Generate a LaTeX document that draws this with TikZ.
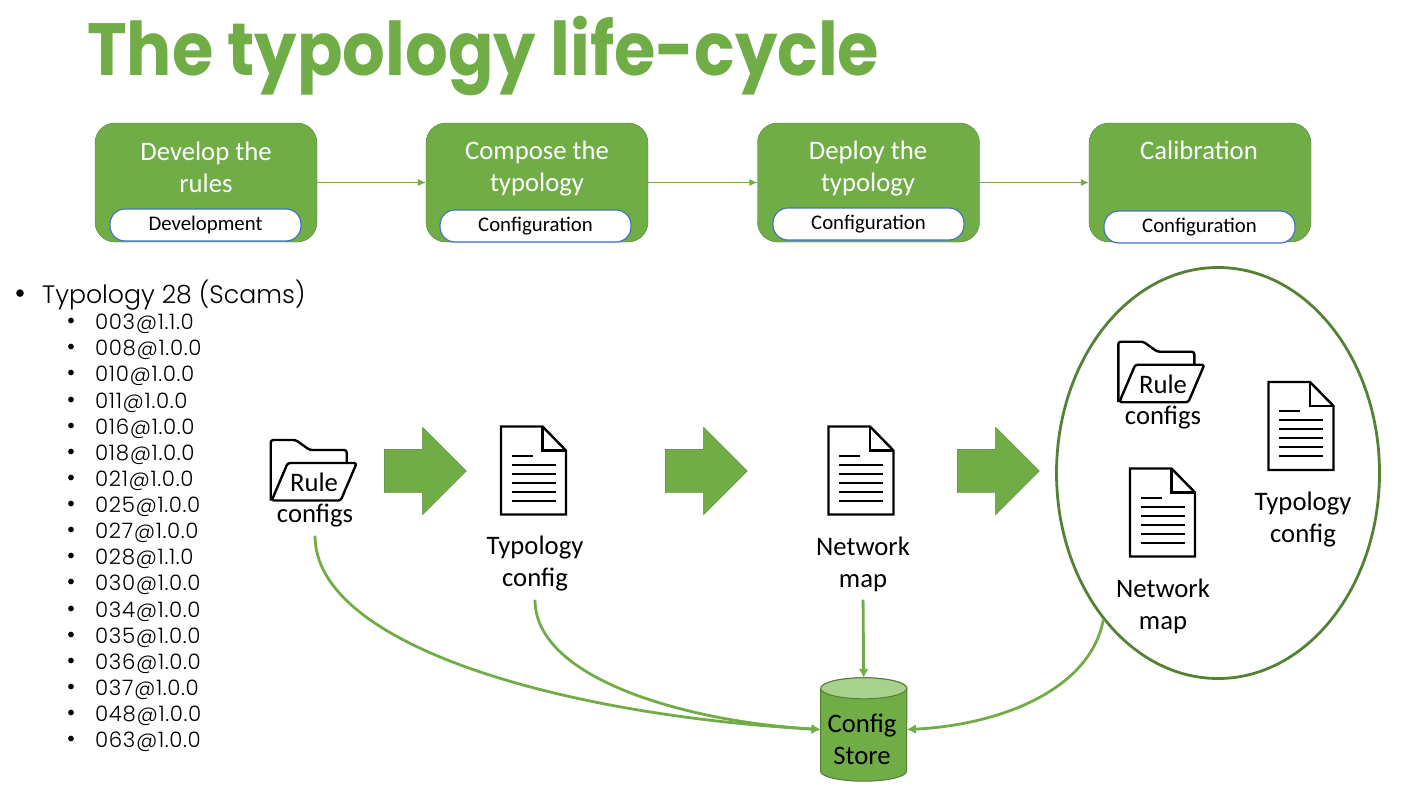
\documentclass[tikz,border=0pt]{standalone}
\usepackage{fontspec}
\setmainfont{Carlito}
\newfontfamily\titlefont[FakeStretch=0.907]{Poppins}
\newfontfamily\headfont{Poppins Light}
\newfontfamily\listfont[LetterSpace=3]{Poppins Light}
\usetikzlibrary{shapes.geometric,shapes.arrows,arrows.meta}
\definecolor{leaf}{HTML}{70AD47}
\definecolor{leafdark}{HTML}{507E32}
\definecolor{ringgreen}{HTML}{548235}
\definecolor{lidgreen}{HTML}{A9D18E}
\definecolor{pillblue}{HTML}{4472C4}
\tikzset{
  x=1pt, y=-1pt,
  stepbox/.style={draw=leafdark, fill=leaf, rounded corners=20pt, minimum width=222pt, minimum height=119pt, inner sep=0pt},
  steptext/.style={text=white, align=center, font=\fontsize{26.7}{32}\selectfont},
  pillbox/.style={draw=pillblue, line width=1.2pt, fill=white, rounded corners=15pt, minimum width=191pt, minimum height=32pt, inner sep=0pt, font=\fontsize{20.8}{22}\selectfont},
  thinflow/.style={leaf, line width=1pt, -{Latex[length=8pt,width=7pt]}},
  storeflow/.style={leaf, line width=2.8pt, -{Latex[length=9pt,width=10pt]}},
  bigarrow/.style={single arrow, draw=leafdark, fill=leaf, minimum height=82pt, minimum width=87pt, single arrow head extend=22pt, single arrow head indent=0pt, inner xsep=0pt, inner ysep=21.5pt},
  iconlabel/.style={align=center, inner sep=0pt, font=\fontsize{26.7}{32}\selectfont},
  listitem/.style={anchor=west, inner sep=0pt, font=\listfont\fontsize{21.3}{24}\selectfont, text=black},
  storebody/.style={draw=leafdark, fill=leaf, line width=1pt},
  storelid/.style={draw=leafdark, fill=lidgreen, line width=1pt},
  docicon/.pic={
    \draw[line width=2.4pt, line join=miter, fill=white] (-32.5,-44) -- (9,-44) -- (32.5,-20) -- (32.5,44) -- (-32.5,44) -- cycle;
    \draw[line width=2.4pt] (9,-44) -- (9,-20) -- (32.5,-20);
    \draw[line width=2pt] (-22,-15) -- (-1,-15);
    \foreach \rowy in {-6,3,12,21,30} \draw[line width=2pt] (-22,\rowy) -- (22,\rowy);
  },
  foldericon/.pic={
    \draw[line width=2.4pt, line join=round, rounded corners=2.5pt] (0,60.5) -- (0,0) -- (25,0) -- (39,10) -- (76,10) -- (76,23);
    \draw[line width=2.4pt, line join=round, rounded corners=2.5pt] (1,60.5) -- (17,23) -- (86,23) -- (70,60.5) -- cycle;
  },
}
\begin{document}
\begin{tikzpicture}
  \useasboundingbox (0,0) rectangle (1402,792);
  \node[anchor=west, inner sep=0pt, text=leaf, font=\titlefont\bfseries\fontsize{74}{80}\selectfont] (title) at (87,56) {The typology life-cycle};

  % top row
  \node[stepbox] (develop) at (206,182.5) {};
  \node[stepbox] (compose) at (537,182.5) {};
  \node[stepbox] (deploy) at (868.5,182.5) {};
  \node[stepbox] (calib) at (1200,182.5) {};
  \node[steptext] (developtext) at (206,167) {Develop the\\rules};
  \node[steptext] (composetext) at (537,169) {Compose the\\typology};
  \node[steptext] (deploytext) at (868,169) {Deploy the\\typology};
  \node[steptext] (calibtext) at (1199,150) {Calibration};
  \node[pillbox] (developpill) at (205.5,225) {Development};
  \node[pillbox] (composepill) at (535.5,226) {Configuration};
  \node[pillbox] (deploypill) at (868.5,224) {Configuration};
  \node[pillbox] (calibpill) at (1199.5,227) {Configuration};
  \draw[thinflow] (develop) -- (compose);
  \draw[thinflow] (compose) -- (deploy);
  \draw[thinflow] (deploy) -- (calib);

  % version list
  \node[inner sep=0pt, font=\fontsize{21}{24}\selectfont] (headdot) at (20,295) {\textbullet};
  \node[listitem, font=\headfont\fontsize{25.2}{28}\selectfont] (headitem) at (42,295) {Typology 28 (Scams)};
  \foreach \ver [count=\i from 0] in {003@1.1.0,008@1.0.0,010@1.0.0,011@1.0.0,016@1.0.0,018@1.0.0,021@1.0.0,025@1.0.0,027@1.0.0,028@1.1.0,030@1.0.0,034@1.0.0,035@1.0.0,036@1.0.0,037@1.0.0,048@1.0.0,063@1.0.0} {
    \node[inner sep=0pt, font=\fontsize{16}{19}\selectfont] (dot\i) at (71,{322+26.125*\i}) {\textbullet};
    \node[listitem] (item\i) at (95,{324+26.125*\i}) {\ver};
  }

  % big arrows
  \node[bigarrow] (arrowa) at (414.5,471) {};
  \node[bigarrow] (arrowb) at (695.5,471) {};
  \node[bigarrow] (arrowc) at (987.5,471) {};

  % icons
  \pic at (270.7,440) {foldericon};
  \node[iconlabel] (rulea) at (314,482) {Rule};
  \node[iconlabel] (configsa) at (315,516) {configs};
  \pic at (533.5,470.5) {docicon};
  \node[iconlabel] (typologya) at (535,564) {Typology\\config};
  \pic at (861,470.5) {docicon};
  \node[iconlabel] (networka) at (863,564) {Network\\map};

  % ellipse group
  \node[ellipse, draw=ringgreen, line width=2.8pt, minimum width=323pt, minimum height=411pt, inner sep=0pt] (ring) at (1218,473) {};
  \pic at (1118.3,341.7) {foldericon};
  \node[iconlabel] (ruleb) at (1163,384) {Rule};
  \node[iconlabel] (configsb) at (1163,418) {configs};
  \pic at (1162.5,512.5) {docicon};
  \node[iconlabel] (networkb) at (1163,606) {Network\\map};
  \pic at (1301,426) {docicon};
  \node[iconlabel] (typologyb) at (1303,520) {Typology\\config};

  % store
  \node[minimum width=86pt, minimum height=103pt, inner sep=0pt] (store) at (863.7,729.5) {};
  \draw[storebody] ([yshift=-10.5pt]store.north west) -- ([yshift=10pt]store.south west) arc[start angle=180, end angle=360, x radius=43pt, y radius=10pt] -- ([yshift=-10.5pt]store.north east) arc[start angle=0, end angle=180, x radius=43pt, y radius=10.5pt] -- cycle;
  \draw[storelid] ([yshift=-10.5pt]store.north) ellipse[x radius=43pt, y radius=10.5pt];
  \node[iconlabel] (storetext) at (862,739) {Config\\Store};

  \draw[storeflow, shorten <=8pt] (configsa.south) .. controls (315,645) and (560,715) .. (store.west);
  \draw[storeflow, shorten <=8pt] (typologya.south) .. controls (535,680) and (690,722) .. (store.west);
  \draw[storeflow, shorten <=8pt] (networka.south) -- (store.north);
  \draw[storeflow] (ring.232) .. controls (1090,690) and (1000,725) .. (store.east);
\end{tikzpicture}
\end{document}
